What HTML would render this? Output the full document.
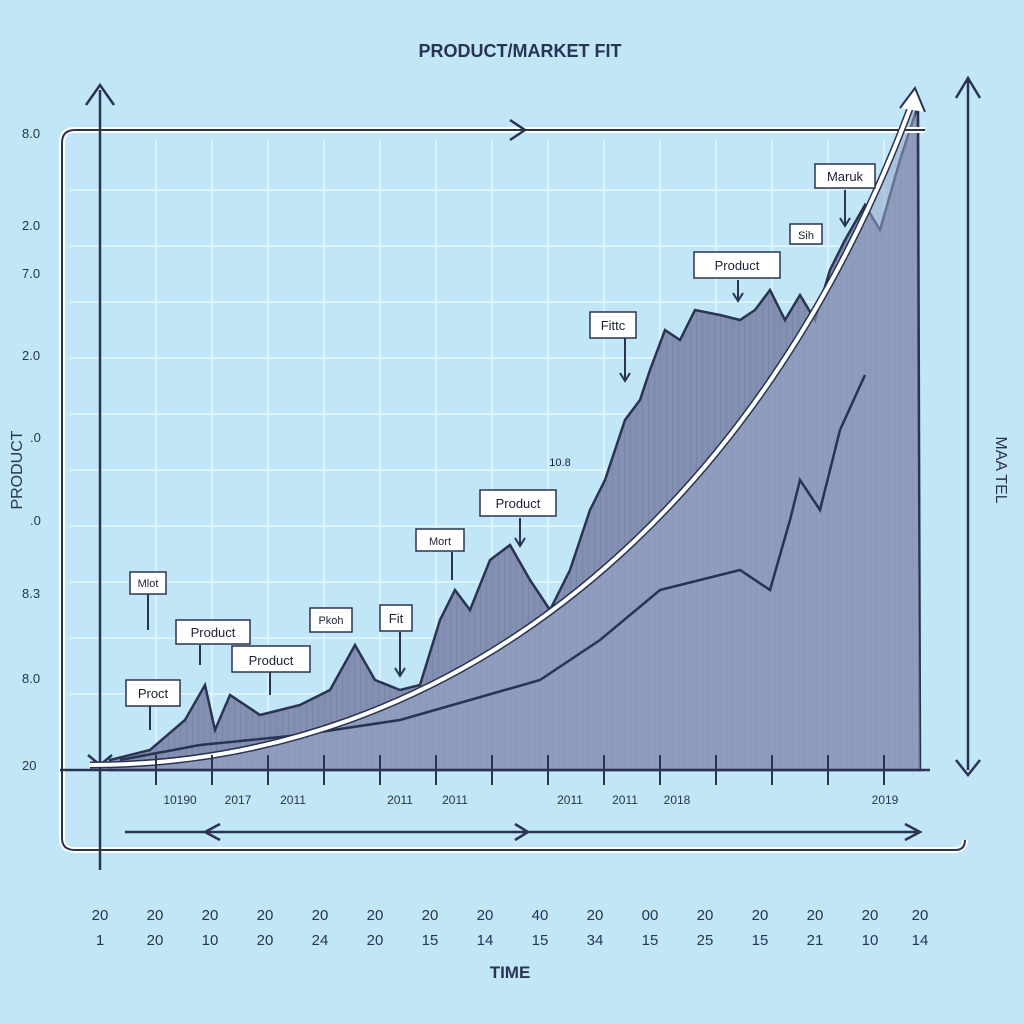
<!DOCTYPE html>
<html><head><style>
body{margin:0;background:#c0e6f8;}
svg{display:block;font-family:"Liberation Sans",sans-serif;}
</style></head><body>
<svg width="1024" height="1024" viewBox="0 0 1024 1024">
<defs>
<pattern id="h" width="6" height="6" patternUnits="userSpaceOnUse">
<rect width="6" height="6" fill="#8390b2"/>
<path d="M0 0V6" stroke="#6e7b9e" stroke-width="1"/>
</pattern>
</defs>
<rect width="1024" height="1024" fill="#c0e6f8"/>
<g stroke="#e6f5fd" stroke-width="1.5">
<path d="M100 140V770M156 140V770M212 140V770M268 140V770M324 140V770M380 140V770M436 140V770M492 140V770M548 140V770M604 140V770M660 140V770M716 140V770M772 140V770M828 140V770M884 140V770"/>
<path d="M70 190H920M70 246H920M70 302H920M70 358H920M70 414H920M70 470H920M70 526H920M70 582H920M70 638H920M70 694H920"/>
</g>
<!-- main series -->
<path d="M110 760 L150 750 L185 720 L205 685 L215 730 L230 695 L260 715 L300 705 L330 690 L355 645 L375 680 L400 690 L420 685 L440 620 L455 590 L470 610 L490 560 L510 545 L530 580 L550 610 L570 570 L590 510 L605 480 L625 420 L640 400 L650 370 L665 330 L680 340 L695 310 L720 315 L740 320 L755 310 L770 290 L785 320 L800 295 L815 320 L830 270 L845 240 L865 205 L880 230 L900 160 L918 105 L920 770 L110 770Z" fill="url(#h)" stroke="#2a3350" stroke-width="2.5"/>
<!-- lighter region under curve -->
<path d="M90 765 C450 765 760 520 915 95 L920 770 L90 770Z" fill="#98a6c6" opacity="0.55"/>
<path d="M120 760 L200 745 L300 735 L400 720 L470 700 L540 680 L600 640 L660 590 L700 580 L740 570 L770 590 L790 520 L800 480 L820 510 L840 430 L865 375" fill="none" stroke="#2a3350" stroke-width="2.5"/>
<!-- frame -->
<path d="M925 130 H75 Q62 130 62 143 V838 Q62 850 75 850 H955 Q965 850 965 840" fill="none" stroke="#fff" stroke-width="6"/>
<path d="M925 130 H75 Q62 130 62 143 V838 Q62 850 75 850 H955 Q965 850 965 840" fill="none" stroke="#2a3350" stroke-width="2"/>
<path d="M510 120 L525 130 L510 140" fill="none" stroke="#2a3350" stroke-width="2.5"/>
<g stroke="#2a3350" stroke-width="2.5" fill="none">
<path d="M100 870 V90 M86 105 L100 85 L114 105"/>
<path d="M968 770 V80 M956 98 L968 78 L980 98 M956 760 L968 775 L980 760"/>
<path d="M60 770 H930"/>
<path d="M125 832 H918 M905 824 L920 832 L905 840 M220 824 L205 832 L220 840 M515 824 L528 832 L515 840"/>
<path d="M88 755 L100 765 L112 755"/>
</g>
<path d="M90 765 C450 765 760 520 915 95" fill="none" stroke="#2a3350" stroke-width="7"/>
<path d="M90 765 C450 765 760 520 915 95" fill="none" stroke="#fff" stroke-width="4"/>
<path d="M900 108 L915 88 L925 112" fill="#fff" stroke="#2a3350" stroke-width="2"/>
<g stroke="#2a3350" stroke-width="2">
<path d="M156 755V785M212 755V785M268 755V785M324 755V785M380 755V785M436 755V785M492 755V785M548 755V785M604 755V785M660 755V785M716 755V785M772 755V785M828 755V785M884 755V785"/>
</g>
<g font-size="13" fill="#2a3350">
<text x="22" y="138">8.0</text><text x="22" y="230">2.0</text><text x="22" y="278">7.0</text>
<text x="22" y="360">2.0</text><text x="30" y="442">.0</text><text x="30" y="525">.0</text>
<text x="22" y="598">8.3</text><text x="22" y="683">8.0</text><text x="22" y="770">20</text>
</g>
<g font-size="12" fill="#2a3350" text-anchor="middle">
<text x="180" y="804">10190</text><text x="238" y="804">2017</text><text x="293" y="804">2011</text>
<text x="400" y="804">2011</text><text x="455" y="804">2011</text><text x="570" y="804">2011</text>
<text x="625" y="804">2011</text><text x="677" y="804">2018</text><text x="885" y="804">2019</text>
</g>
<text x="520" y="57" font-size="18" fill="#2a3350" text-anchor="middle" font-weight="bold">PRODUCT/MARKET FIT</text>
<text x="510" y="978" font-size="17" fill="#2a3350" text-anchor="middle" font-weight="bold">TIME</text>
<text transform="translate(22,470) rotate(-90)" font-size="16" fill="#2a3350" text-anchor="middle">PRODUCT</text>
<text transform="translate(996,470) rotate(90)" font-size="16" fill="#2a3350" text-anchor="middle">MAA TEL</text>
<g font-size="15" fill="#2a3350" text-anchor="middle">
<text x="100" y="920">20</text><text x="155" y="920">20</text><text x="210" y="920">20</text><text x="265" y="920">20</text>
<text x="320" y="920">20</text><text x="375" y="920">20</text><text x="430" y="920">20</text><text x="485" y="920">20</text>
<text x="540" y="920">40</text><text x="595" y="920">20</text><text x="650" y="920">00</text><text x="705" y="920">20</text>
<text x="760" y="920">20</text><text x="815" y="920">20</text><text x="870" y="920">20</text><text x="920" y="920">20</text>
<text x="100" y="945">1</text><text x="155" y="945">20</text><text x="210" y="945">10</text><text x="265" y="945">20</text>
<text x="320" y="945">24</text><text x="375" y="945">20</text><text x="430" y="945">15</text><text x="485" y="945">14</text>
<text x="540" y="945">15</text><text x="595" y="945">34</text><text x="650" y="945">15</text><text x="705" y="945">25</text>
<text x="760" y="945">15</text><text x="815" y="945">21</text><text x="870" y="945">10</text><text x="920" y="945">14</text>
</g>
<g font-size="13" fill="#1a2035" text-anchor="middle" stroke-width="1.5">
<g><rect x="815" y="164" width="60" height="24" fill="#fff" stroke="#2a3350"/><text x="845" y="181">Maruk</text></g>
<g><rect x="790" y="224" width="32" height="20" fill="#fff" stroke="#2a3350"/><text x="806" y="239" font-size="11">Sih</text></g>
<g><rect x="694" y="252" width="86" height="26" fill="#fff" stroke="#2a3350"/><text x="737" y="270">Product</text></g>
<g><rect x="590" y="312" width="46" height="26" fill="#fff" stroke="#2a3350"/><text x="613" y="330">Fittc</text></g>
<g><rect x="480" y="490" width="76" height="26" fill="#fff" stroke="#2a3350"/><text x="518" y="508">Product</text></g>
<g><rect x="416" y="529" width="48" height="22" fill="#fff" stroke="#2a3350"/><text x="440" y="545" font-size="11">Mort</text></g>
<g><rect x="380" y="605" width="32" height="26" fill="#fff" stroke="#2a3350"/><text x="396" y="623">Fit</text></g>
<g><rect x="310" y="608" width="42" height="24" fill="#fff" stroke="#2a3350"/><text x="331" y="624" font-size="11">Pkoh</text></g>
<g><rect x="232" y="646" width="78" height="26" fill="#fff" stroke="#2a3350"/><text x="271" y="665">Product</text></g>
<g><rect x="176" y="620" width="74" height="24" fill="#fff" stroke="#2a3350"/><text x="213" y="637">Product</text></g>
<g><rect x="130" y="572" width="36" height="22" fill="#fff" stroke="#2a3350"/><text x="148" y="587" font-size="11">Mlot</text></g>
<g><rect x="126" y="680" width="54" height="26" fill="#fff" stroke="#2a3350"/><text x="153" y="698">Proct</text></g>
<text x="560" y="466" font-size="11">10.8</text>
</g>
<g stroke="#2a3350" stroke-width="2" fill="none">
<path d="M845 190V225M840 218L845 226L850 218"/><path d="M738 280V300M733 293L738 301L743 293"/>
<path d="M625 338V380M620 373L625 381L630 373"/><path d="M520 518V545M515 538L520 546L525 538"/>
<path d="M452 552V580"/><path d="M400 632V675M395 668L400 676L405 668"/>
<path d="M270 672V695"/><path d="M200 645V665"/><path d="M148 594V630"/><path d="M150 706V730"/>
</g>
</svg>
</body></html>
